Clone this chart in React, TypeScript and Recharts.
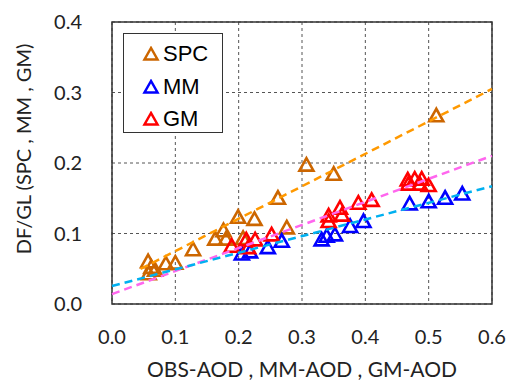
import {
  CartesianGrid,
  Legend,
  ReferenceArea,
  Scatter,
  ScatterChart,
  XAxis,
  YAxis,
} from "recharts";

// Scatter values
const spcX = [0.057, 0.058, 0.062, 0.068, 0.085, 0.1, 0.128, 0.163, 0.176, 0.18, 0.199, 0.225, 0.207, 0.262, 0.276, 0.307, 0.35, 0.512];
const spcY = [0.06, 0.043, 0.052, 0.048, 0.057, 0.058, 0.077, 0.092, 0.104, 0.092, 0.123, 0.12, 0.093, 0.15, 0.108, 0.197, 0.184, 0.267];

const mmX = [0.205, 0.218, 0.246, 0.268, 0.331, 0.339, 0.352, 0.376, 0.397, 0.47, 0.5, 0.526, 0.553];
const mmY = [0.071, 0.074, 0.08, 0.089, 0.091, 0.096, 0.098, 0.11, 0.117, 0.142, 0.145, 0.15, 0.156];

const gmX = [0.189, 0.212, 0.215, 0.226, 0.252, 0.342, 0.342, 0.36, 0.363, 0.389, 0.41, 0.467, 0.468, 0.478, 0.489, 0.486, 0.5];
const gmY = [0.082, 0.091, 0.08, 0.091, 0.098, 0.117, 0.125, 0.136, 0.126, 0.143, 0.147, 0.176, 0.17, 0.177, 0.177, 0.17, 0.168];

// linear trendlines: [intercept, slope, xStart, xEnd]
const spcFit = [0.029, 0.46, 0.045, 0.6];
const mmFit = [0.0255, 0.236, 0, 0.6];
const gmFit = [0.014, 0.327, 0, 0.6];

const xTicks = [0, 0.1, 0.2, 0.3, 0.4, 0.5, 0.6];
const yTicks = [0, 0.1, 0.2, 0.3, 0.4];

const seriesNames = ["SPC", "MM", "GM"];
const seriesColors = ["#CC6600", "#0000FF", "#FF0000"];

const toPoints = (xs: number[], ys: number[]) => xs.map((x, i) => ({ x, y: ys[i] }));
const fitLine = (f: number[]) => [
  { x: f[2], y: f[0] + f[1] * f[2] },
  { x: f[3], y: f[0] + f[1] * f[3] },
];

const tickFont = "Lato, 'Open Sans', sans-serif";
const textColor = "#222";

// open triangle marker
const Triangle = (color: string) => (props: any) => {
  const { cx, cy } = props;
  if (cx == null || cy == null) return <g />;
  const pts = `${cx},${cy - 7} ${cx - 7},${cy + 5.5} ${cx + 7},${cy + 5.5}`;
  return <polygon points={pts} fill="none" stroke={color} strokeWidth={2.6} />;
};

const LegendBox = () => (
  <div
    style={{
      width: 100,
      height: 100,
      border: "1px solid #333",
      background: "#fff",
      boxSizing: "border-box",
      position: "relative",
    }}
  >
    {seriesNames.map((name, i) => (
      <div
        key={name}
        style={{
          position: "absolute",
          left: 18,
          top: 5 + i * 32.5,
          height: 30,
          display: "flex",
          alignItems: "center",
          fontFamily: "'Liberation Sans', Arial, sans-serif",
          fontSize: 22,
          color: "#000",
        }}
      >
        <svg width={18} height={16} style={{ marginRight: 3 }}>
          <polygon points="9,2 2.5,13.5 15.5,13.5" fill="none" stroke={seriesColors[i]} strokeWidth={2.5} />
        </svg>
        {name}
      </div>
    ))}
  </div>
);

const YLabel = () => (
  <text
    x={23}
    y={149}
    transform="rotate(-90 23 149)"
    textAnchor="middle"
    dominantBaseline="central"
    fontFamily={tickFont}
    fontSize={20}
    fill={textColor}
  >
    DF/GL (SPC , MM , GM)
  </text>
);

const App = () => {
  return (
    <div style={{ position: "absolute", left: 0, top: 0 }}>
      <ScatterChart width={506} height={380} margin={{ top: 22, right: 14, bottom: 0, left: 0 }}>
        <CartesianGrid stroke="#555" strokeDasharray="3 3" strokeWidth={1} />
        <XAxis
          type="number"
          dataKey="x"
          domain={[0, 0.6]}
          ticks={xTicks}
          height={76}
          axisLine={false}
          tickLine={false}
          tickMargin={20}
          tickFormatter={(v: number) => v.toFixed(1)}
          tick={{ fontFamily: tickFont, fontSize: 20, fill: textColor }}
          label={{
            value: "OBS-AOD , MM-AOD , GM-AOD",
            position: "insideBottom",
            offset: 3,
            fontFamily: tickFont,
            fontSize: 21,
            fill: textColor,
          }}
        />
        <YAxis
          type="number"
          dataKey="y"
          domain={[0, 0.4]}
          ticks={yTicks}
          width={112}
          axisLine={false}
          tickLine={false}
          tickMargin={24}
          tickFormatter={(v: number) => v.toFixed(1)}
          tick={{ fontFamily: tickFont, fontSize: 20, fill: textColor }}
          label={<YLabel />}
        />
        <ReferenceArea x1={0} x2={0.6} y1={0} y2={0.4} fill="none" stroke="#333" strokeWidth={1.5} />
        <Scatter name="SPC" data={toPoints(spcX, spcY)} shape={Triangle(seriesColors[0])} isAnimationActive={false} />
        <Scatter name="MM" data={toPoints(mmX, mmY)} shape={Triangle(seriesColors[1])} isAnimationActive={false} />
        <Scatter name="GM" data={toPoints(gmX, gmY)} shape={Triangle(seriesColors[2])} isAnimationActive={false} />
        <Scatter
          data={fitLine(spcFit)}
          line={{ stroke: "#FF9900", strokeWidth: 2.5, strokeDasharray: "8 5" }}
          shape={() => <g />}
          legendType="none"
          isAnimationActive={false}
        />
        <Scatter
          data={fitLine(gmFit)}
          line={{ stroke: "#FF66EE", strokeWidth: 2.5, strokeDasharray: "8 5" }}
          shape={() => <g />}
          legendType="none"
          isAnimationActive={false}
        />
        <Scatter
          data={fitLine(mmFit)}
          line={{ stroke: "#00B0F0", strokeWidth: 2.5, strokeDasharray: "8 5" }}
          shape={() => <g />}
          legendType="none"
          isAnimationActive={false}
        />
        <Legend
          layout="vertical"
          align="center"
          verticalAlign="middle"
          content={<LegendBox />}
          wrapperStyle={{ left: 123, top: 33, width: 100, height: 100 }}
        />
      </ScatterChart>
    </div>
  );
};

export default App;
